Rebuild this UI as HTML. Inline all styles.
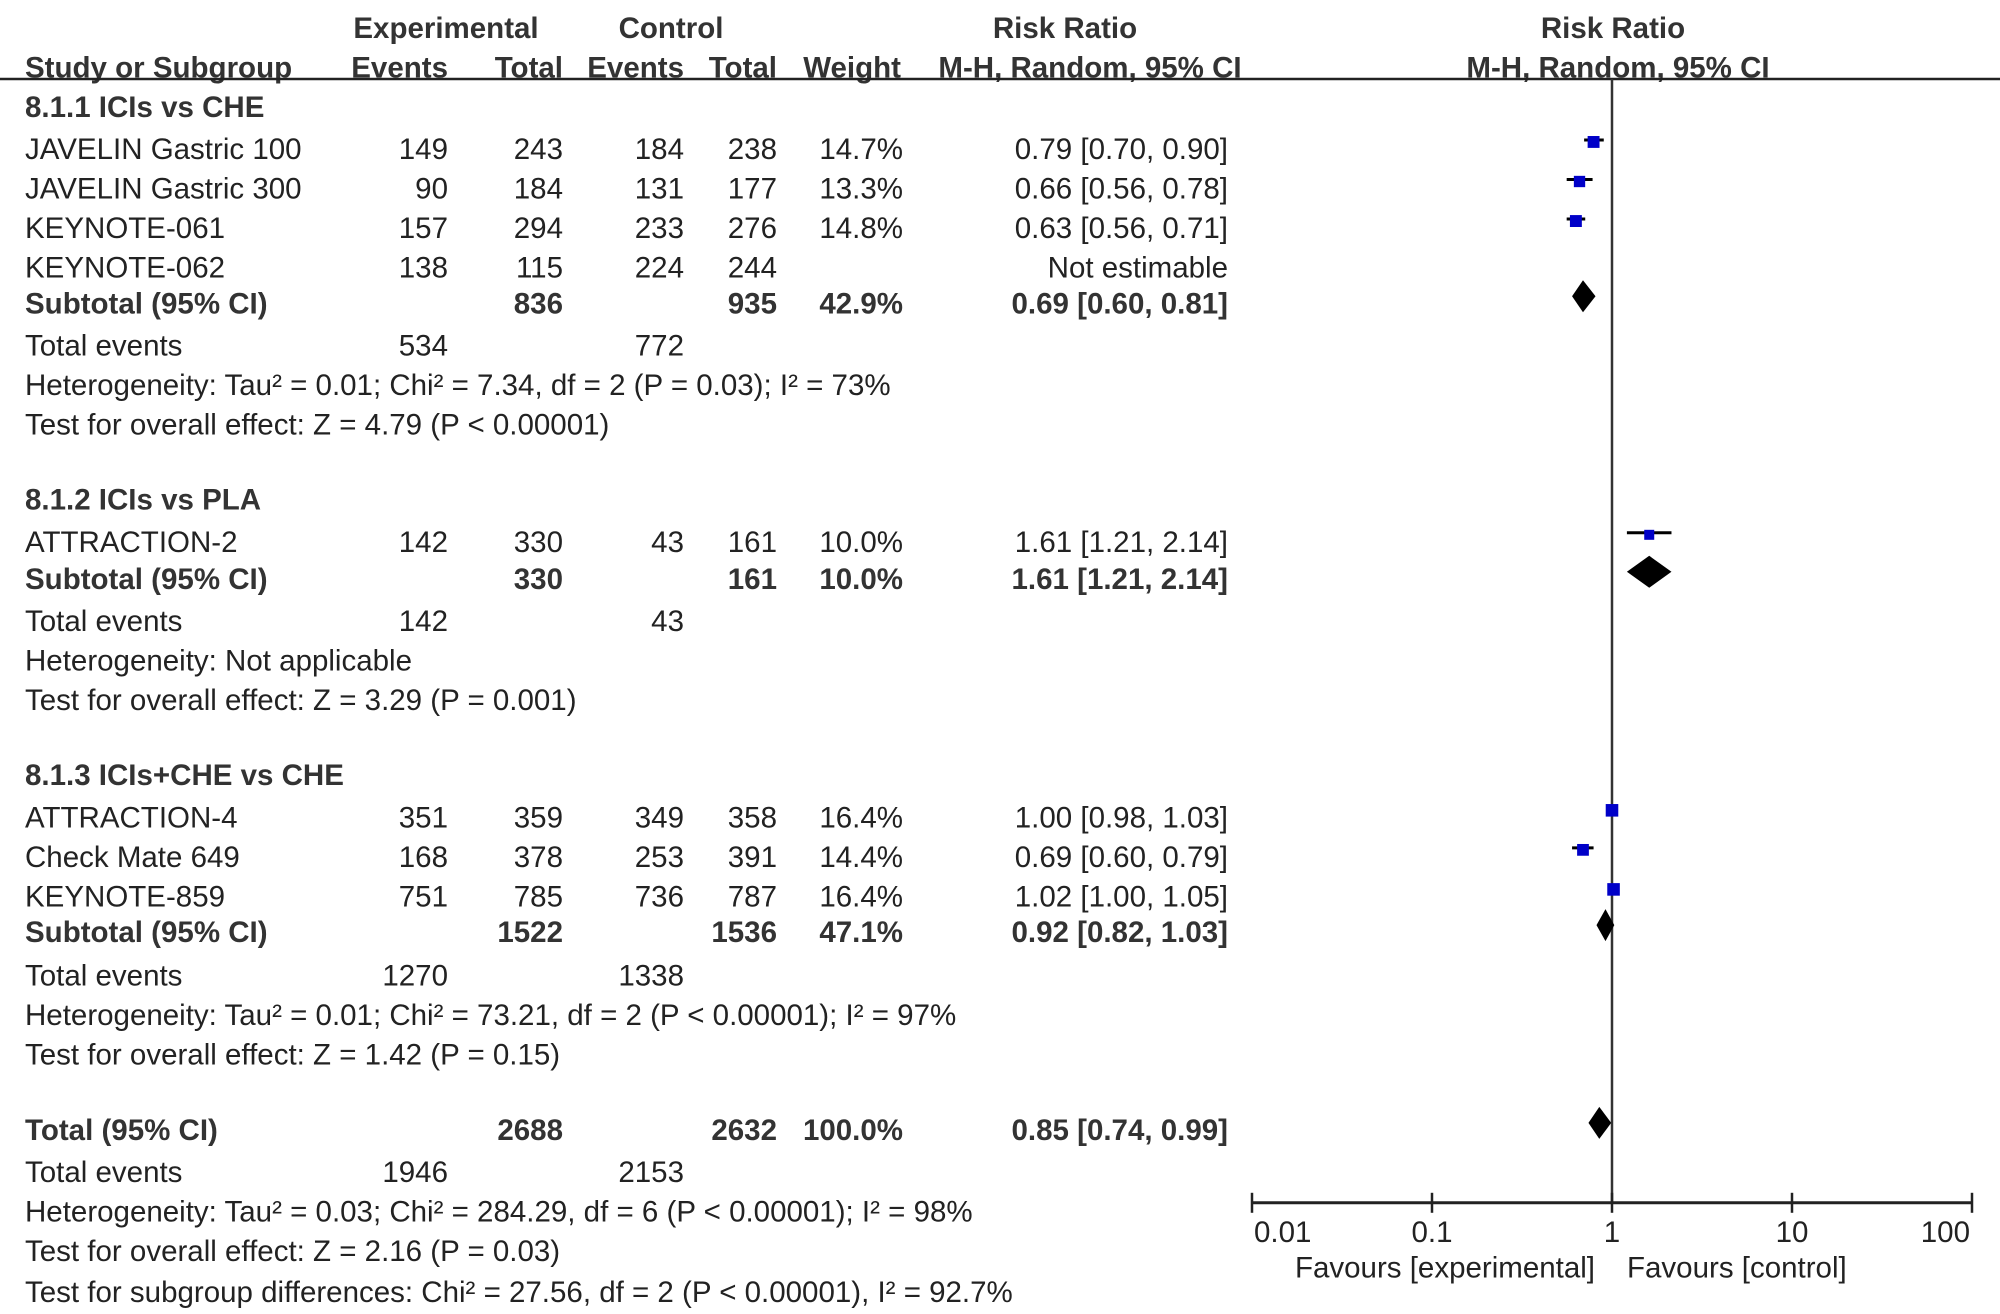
<!DOCTYPE html>
<html><head><meta charset="utf-8"><style>
html,body{margin:0;padding:0;background:#fff}
svg{display:block}
text{font-family:"Liberation Sans",Arial,sans-serif;font-size:29.5px;fill:#222}
.b{font-weight:bold;fill:#333}
</style></head><body>
<svg id="plot" width="2000" height="1314" viewBox="0 0 2000 1314" xmlns="http://www.w3.org/2000/svg"></svg>
<script>
// Study data
const studyNames = ["JAVELIN Gastric 100","JAVELIN Gastric 300","KEYNOTE-061","ATTRACTION-2","ATTRACTION-4","Check Mate 649","KEYNOTE-859"];
const studyRR = [0.79,0.66,0.63,1.61,1.00,0.69,1.02];
const studyLo = [0.70,0.56,0.56,1.21,0.98,0.60,1.00];
const studyHi = [0.90,0.78,0.71,2.14,1.03,0.79,1.05];
const studyWeight = [14.7,13.3,14.8,10.0,16.4,14.4,16.4];
const studyRow = [116,147,178,424,640,671,702];
const diamondNames = ["subtotal-1","subtotal-2","subtotal-3","total"];
const diamondRR = [0.69,1.61,0.92,0.85];
const diamondLo = [0.60,1.21,0.82,0.74];
const diamondHi = [0.81,2.14,1.03,0.99];
const diamondRow = [237,453,730,885];
const tickValues = [0.01,0.1,1,10,100];
const tickLabels = ["0.01","0.1","1","10","100"];

const S = 1.2755;
const svg = document.getElementById('plot');
const NS = "http://www.w3.org/2000/svg";
function xs(v){ return 1612 + 180*Math.log10(v); }
function ys(r){ return r*S; }
function el(tag, attrs){ const e=document.createElementNS(NS,tag); for(const k in attrs) e.setAttribute(k,attrs[k]); svg.appendChild(e); return e; }
function txt(s, x, yDisp, anchor, bold, name){
  const t = el('text',{x:x, y:(yDisp*S+11).toFixed(1), 'text-anchor':anchor||'start'});
  if(bold) t.setAttribute('class','b');
  
  
  t.textContent = s; return t;
}
// header
txt("Experimental", 446, 21, 'middle', true, 'header-experimental');
txt("Control", 671, 21, 'middle', true, 'header-control');
txt("Risk Ratio", 1065, 21, 'middle', true, 'header-risk-ratio');
txt("Risk Ratio", 1613, 21, 'middle', true, 'header-risk-ratio-plot');
txt("Study or Subgroup", 25, 52, 'start', true, 'header-study');
txt("Events", 448, 52, 'end', true, 'header-exp-events');
txt("Total", 563, 52, 'end', true, 'header-exp-total');
txt("Events", 684, 52, 'end', true, 'header-ctrl-events');
txt("Total", 777, 52, 'end', true, 'header-ctrl-total');
txt("Weight", 901, 52, 'end', true, 'header-weight');
txt("M-H, Random, 95% CI", 1090, 52, 'middle', true, 'header-ci');
txt("M-H, Random, 95% CI", 1618, 52, 'middle', true, 'header-ci-plot');
const hl = el('line',{x1:0,y1:79,x2:2000,y2:79,stroke:'#222','stroke-width':2.5});



// table rows: [yDisp, label, e1, t1, e2, t2, w, ci, bold]
const rows = [
 [83,"8.1.1 ICIs vs CHE","","","","","","",1],
 [116,"JAVELIN Gastric 100","149","243","184","238","14.7%","0.79 [0.70, 0.90]",0],
 [147,"JAVELIN Gastric 300","90","184","131","177","13.3%","0.66 [0.56, 0.78]",0],
 [178,"KEYNOTE-061","157","294","233","276","14.8%","0.63 [0.56, 0.71]",0],
 [209,"KEYNOTE-062","138","115","224","244","","Not estimable",0],
 [237,"Subtotal (95% CI)","","836","","935","42.9%","0.69 [0.60, 0.81]",1],
 [270,"Total events","534","","772","","","",0],
 [301,"Heterogeneity: Tau² = 0.01; Chi² = 7.34, df = 2 (P = 0.03); I² = 73%","","","","","","",0],
 [332,"Test for overall effect: Z = 4.79 (P < 0.00001)","","","","","","",0],
 [391,"8.1.2 ICIs vs PLA","","","","","","",1],
 [424,"ATTRACTION-2","142","330","43","161","10.0%","1.61 [1.21, 2.14]",0],
 [453,"Subtotal (95% CI)","","330","","161","10.0%","1.61 [1.21, 2.14]",1],
 [486,"Total events","142","","43","","","",0],
 [517,"Heterogeneity: Not applicable","","","","","","",0],
 [548,"Test for overall effect: Z = 3.29 (P = 0.001)","","","","","","",0],
 [607,"8.1.3 ICIs+CHE vs CHE","","","","","","",1],
 [640,"ATTRACTION-4","351","359","349","358","16.4%","1.00 [0.98, 1.03]",0],
 [671,"Check Mate 649","168","378","253","391","14.4%","0.69 [0.60, 0.79]",0],
 [702,"KEYNOTE-859","751","785","736","787","16.4%","1.02 [1.00, 1.05]",0],
 [730,"Subtotal (95% CI)","","1522","","1536","47.1%","0.92 [0.82, 1.03]",1],
 [764,"Total events","1270","","1338","","","",0],
 [795,"Heterogeneity: Tau² = 0.01; Chi² = 73.21, df = 2 (P < 0.00001); I² = 97%","","","","","","",0],
 [826,"Test for overall effect: Z = 1.42 (P = 0.15)","","","","","","",0],
 [885,"Total (95% CI)","","2688","","2632","100.0%","0.85 [0.74, 0.99]",1],
 [918,"Total events","1946","","2153","","","",0],
 [949,"Heterogeneity: Tau² = 0.03; Chi² = 284.29, df = 6 (P < 0.00001); I² = 98%","","","","","","",0],
 [980,"Test for overall effect: Z = 2.16 (P = 0.03)","","","","","","",0],
 [1012,"Test for subgroup differences: Chi² = 27.56, df = 2 (P < 0.00001), I² = 92.7%","","","","","","",0]
];
const colX = [448,563,684,777,903,1228];
rows.forEach((r,i)=>{
  const b = r[8]===1;
  txt(r[1], 25, r[0], 'start', b, 'row-label');
  for(let c=0;c<6;c++){ if(r[2+c]) txt(r[2+c], colX[c], r[0], 'end', b, 'row-cell'); }
});

// axis
const vl = el('line',{x1:1612,y1:79,x2:1612,y2:ys(943),stroke:'#333','stroke-width':2.5});


const ax = el('line',{x1:xs(0.01),y1:ys(943),x2:xs(100),y2:ys(943),stroke:'#222','stroke-width':3});


tickValues.forEach((v,i)=>{
  const t = el('line',{x1:xs(v),y1:ys(943)-10,x2:xs(v),y2:ys(943)+10,stroke:'#222','stroke-width':2.5});
  
  
  const anchor = i===0?'start':(i===tickValues.length-1?'end':'middle');
  const lx = i===0?xs(v)+2:(i===tickValues.length-1?xs(v)-2:xs(v));
  txt(tickLabels[i], lx, 965, anchor, false, 'x-tick-label');
});
txt("Favours [experimental]", 1595, 993, 'end', false, 'favours-experimental');
txt("Favours [control]", 1627, 993, 'start', false, 'favours-control');

// study markers
studyNames.forEach((n,i)=>{
  const y = ys(studyRow[i]) - 8;
  const ci = el('line',{x1:xs(studyLo[i]),y1:y,x2:xs(studyHi[i]),y2:y,stroke:'#000','stroke-width':3});
  
  
  const s = 6 + studyWeight[i]*0.4;
  const sq = el('rect',{x:xs(studyRR[i])-s/2,y:y-s/2+2,width:s,height:s,fill:'#0000c8'});
  
  
});
// diamonds
diamondNames.forEach((n,i)=>{
  const y = ys(diamondRow[i]) - 6;
  const h = 16;
  const l = xs(diamondLo[i]), r = xs(diamondHi[i]), c = xs(diamondRR[i]);
  const p = el('polygon',{points:`${l},${y} ${c},${y-h} ${r},${y} ${c},${y+h}`,fill:'#000'});
  
  
});
</script>
</body></html>
